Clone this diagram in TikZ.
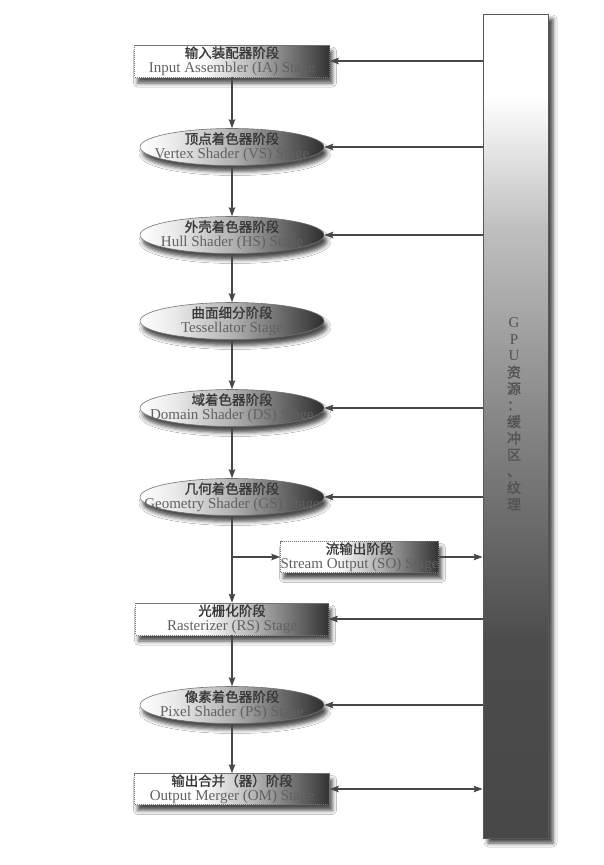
\documentclass[tikz,border=0pt]{standalone}
\usepackage{fontspec}
\setmainfont{Liberation Serif}
\newfontfamily\cjk[FakeBold=1.2]{Noto Sans CJK SC}
\usetikzlibrary{shapes.geometric,shadows.blur,arrows.meta}
\pgfdeclarehorizontalshading{boxshade}{100bp}{color(0bp)=(white); color(25bp)=(white); color(42bp)=(white); color(56bp)=(black!30); color(75bp)=(black!80); color(100bp)=(black!80)}
\pgfdeclarehorizontalshading{ellshade}{100bp}{color(0bp)=(white); color(25bp)=(white); color(34bp)=(black!8); color(50bp)=(black!30); color(75bp)=(black!82); color(100bp)=(black!82)}
\pgfdeclareverticalshading{barshade}{100bp}{color(0bp)=(black!72); color(25bp)=(black!72); color(37bp)=(black!70); color(50bp)=(black!48); color(62bp)=(black!25); color(70bp)=(white); color(100bp)=(white)}
\newcommand\zh[1]{{\cjk\fontsize{13.5}{14.5}\selectfont\color{black!78}#1}}
\newcommand\en[1]{{\fontsize{15}{14.5}\selectfont\color{black!62}#1}}
\tikzset{
  shd/.style={blur shadow={shadow xshift=3pt, shadow yshift=-6pt, shadow blur radius=4pt, shadow opacity=70}},
  stagebox/.style={rectangle, draw=black!55, dash pattern=on 1.2pt off 0.8pt, line width=0.6pt, shading=boxshade, minimum width=195pt, minimum height=32pt, inner sep=0pt, align=center, font=\fontsize{14}{14.5}\selectfont, shd},
  stageell/.style={ellipse, draw=black!55, line width=0.6pt, shading=ellshade, minimum width=184pt, minimum height=37pt, inner sep=0pt, shd},
  elltext/.style={align=center, font=\fontsize{14}{14.5}\selectfont, inner sep=0pt},
  gpubar/.style={rectangle, draw=black!65, line width=0.8pt, shading=barshade, minimum width=65pt, minimum height=824pt, inner sep=0pt, blur shadow={shadow xshift=5pt, shadow yshift=-5pt, shadow blur radius=4pt, shadow opacity=75}},
  bartext/.style={align=center, font=\fontsize{15}{16.5}\selectfont, text=black!68, inner sep=0pt},
  arr/.style={draw=black!72, line width=1.1pt, -{Stealth[length=9pt,width=6.5pt,inset=1.5pt]}},
  arrboth/.style={draw=black!72, line width=1.1pt, {Stealth[length=9pt,width=6.5pt,inset=1.5pt]}-{Stealth[length=9pt,width=6.5pt,inset=1.5pt]}}
}
\newcommand\bz[1]{{\cjk\fontsize{14}{16.5}\selectfont #1}}
\begin{document}
\begin{tikzpicture}[x=1pt,y=-1pt]
\fill[white] (0,0) rectangle (603,865);
\useasboundingbox (0,0) rectangle (603,865);
\node[gpubar] (gpu) at (515.5,426) {};
\node[bartext] (lbl) at (514,414) {G\\P\\U\\\bz{资}\\\bz{源}\\\bz{：}\\\bz{缓}\\\bz{冲}\\\bz{区}\\\bz{、}\\\bz{纹}\\\bz{理}};
\node[stagebox] (ia) at (232,61) {\zh{输入装配器阶段}\\\en{Input Assembler (IA) Stage}};
\node[stageell, label={[elltext]center:\zh{顶点着色器阶段}\\\en{Vertex Shader (VS) Stage}}] (vs) at (232,147) {};
\node[stageell, label={[elltext]center:\zh{外壳着色器阶段}\\\en{Hull Shader (HS) Stage}}] (hs) at (232,235) {};
\node[stageell, label={[elltext]center:\zh{曲面细分阶段}\\\en{Tessellator Stage}}] (ts) at (232,321) {};
\node[stageell, label={[elltext]center:\zh{域着色器阶段}\\\en{Domain Shader (DS) Stage}}] (ds) at (232,408) {};
\node[stageell, label={[elltext]center:\zh{几何着色器阶段}\\\en{Geometry Shader (GS) Stage}}] (gs) at (232,497) {};
\node[stagebox, minimum width=157pt, minimum height=31pt] (so) at (359.5,557) {\zh{流输出阶段}\\\en{Stream Output (SO) Stage}};
\node[stagebox, minimum width=193pt] (rs) at (232,619) {\zh{光栅化阶段}\\\en{Rasterizer (RS) Stage}};
\node[stageell, label={[elltext]center:\zh{像素着色器阶段}\\\en{Pixel Shader (PS) Stage}}] (ps) at (232,705) {};
\node[stagebox, minimum height=31pt] (om) at (232,789) {\zh{输出合并（器）阶段}\\\en{Output Merger (OM) Stage}};
% main column
\draw[arr] (ia) -- (vs);
\draw[arr] (vs) -- (hs);
\draw[arr] (hs) -- (ts);
\draw[arr] (ts) -- (ds);
\draw[arr] (ds) -- (gs);
\draw[arr] (gs) -- (rs);
\draw[arr] (rs) -- (ps);
\draw[arr] (ps) -- (om);
\coordinate (br) at (gs.south |- so.west);
\draw[arr] (br) -- (so.west);
% resources
\draw[arr] (gpu.west |- ia.east) -- (ia.east);
\draw[arr] (gpu.west |- vs.east) -- (vs.east);
\draw[arr] (gpu.west |- hs.east) -- (hs.east);
\draw[arr] (gpu.west |- ds.east) -- (ds.east);
\draw[arr] (gpu.west |- gs.east) -- (gs.east);
\draw[arr] (so.east) -- (gpu.west |- so.east);
\draw[arr] (gpu.west |- rs.east) -- (rs.east);
\draw[arr] (gpu.west |- ps.east) -- (ps.east);
\draw[arrboth] (om.east) -- (gpu.west |- om.east);
\end{tikzpicture}
\end{document}
